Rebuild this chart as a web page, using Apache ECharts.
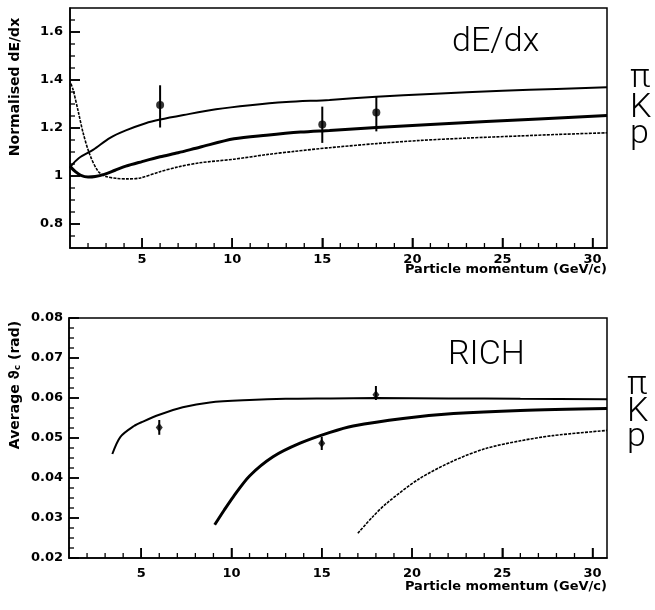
<!DOCTYPE html>
<html>
<head>
<meta charset="utf-8">
<script src="https://cdn.jsdelivr.net/npm/echarts@6.0.0/dist/echarts.min.js"></script>
<style>
  html, body { margin: 0; padding: 0; background: #fff; }
  #chart { width: 655px; height: 610px; }
</style>
</head>
<body>
<div id="chart"></div>
<script>
"use strict";

// momentum axis (GeV/c), shared by both panels
const xRange = [1, 30.8];
const xMajorTicks = [5, 10, 15, 20, 25, 30];
const xMinorTicks = [2, 3, 4, 6, 7, 8, 9, 11, 12, 13, 14, 16, 17, 18, 19, 21, 22, 23, 24, 26, 27, 28, 29];

// dE/dx panel
const dedxRange = [0.7, 1.7];
const dedxMajorTicks = [0.8, 1, 1.2, 1.4, 1.6];
const dedxMinorTicks = [0.75, 0.85, 0.9, 0.95, 1.05, 1.1, 1.15, 1.25, 1.3, 1.35, 1.45, 1.5, 1.55, 1.65];

const dedxPionX = [1.0, 1.5, 2.3, 3.2, 4.1, 5.2, 6.0, 7.3, 9.1, 11, 13, 15.4, 18, 21, 25, 28, 30.8];
const dedxPionY = [1.037, 1.075, 1.11, 1.158, 1.19, 1.22, 1.235, 1.254, 1.278, 1.295, 1.308, 1.317, 1.33, 1.342, 1.355, 1.363, 1.37];

const dedxKaonX = [1.0, 1.3, 1.6, 2.0, 2.4, 2.9, 3.5, 4.1, 5.0, 6.0, 7.0, 8.2, 10.1, 11.9, 13.8, 15.4, 18, 21, 24.1, 27, 30.8];
const dedxKaonY = [1.04, 1.018, 1.003, 0.996, 0.998, 1.007, 1.024, 1.041, 1.06, 1.08, 1.097, 1.12, 1.155, 1.17, 1.183, 1.19, 1.202, 1.215, 1.227, 1.238, 1.252];

const dedxProtonX = [1.05, 1.17, 1.46, 1.73, 2.1, 2.56, 3.0, 3.6, 4.2, 4.9, 6.0, 7.0, 8.2, 10.1, 11.9, 13.5, 15.4, 18, 20.4, 23, 26, 28, 30.8];
const dedxProtonY = [1.385, 1.36, 1.268, 1.179, 1.089, 1.02, 0.998, 0.99, 0.988, 0.992, 1.018, 1.038, 1.055, 1.07, 1.089, 1.103, 1.118, 1.135, 1.148, 1.158, 1.167, 1.173, 1.18];

const dedxDataX = [6, 15, 18];
const dedxDataY = [1.296, 1.215, 1.265];
const dedxDataLo = [1.202, 1.138, 1.186];
const dedxDataHi = [1.378, 1.289, 1.333];

// RICH panel
const richRange = [0.02, 0.08];
const richMajorTicks = [0.02, 0.03, 0.04, 0.05, 0.06, 0.07, 0.08];
const richMinorTicks = [0.0225, 0.025, 0.0275, 0.0325, 0.035, 0.0375, 0.0425, 0.045, 0.0475,
  0.0525, 0.055, 0.0575, 0.0625, 0.065, 0.0675, 0.0725, 0.075, 0.0775];

const richPionX = [3.4, 3.85, 4.6, 5.1, 6.0, 7.3, 8.8, 11, 13, 15.5, 18, 22, 26, 30.8];
const richPionY = [0.0460, 0.0503, 0.0530, 0.0541, 0.0558, 0.0577, 0.0589, 0.0595, 0.0598, 0.0599, 0.0600, 0.0599, 0.0598, 0.0597];

const richKaonX = [9.07, 9.6, 10.1, 11, 12.3, 13.8, 15.46, 16.74, 19.5, 22.3, 26, 30.8];
const richKaonY = [0.0283, 0.0320, 0.0353, 0.0405, 0.0453, 0.0487, 0.0514, 0.0530, 0.0549, 0.0561, 0.0569, 0.0574];

const richProtonX = [17.0, 17.8, 18.6, 20.4, 22.3, 24.1, 26, 27.8, 30.8];
const richProtonY = [0.0262, 0.0302, 0.0337, 0.0398, 0.0443, 0.0474, 0.0493, 0.0506, 0.0519];

const richDataX = [6, 15, 18];
const richDataY = [0.0526, 0.0487, 0.0608];
const richDataLo = [0.0508, 0.0470, 0.0595];
const richDataHi = [0.0545, 0.0503, 0.0630];

const BLACK = "#000";
const LABEL_FONT = { color: BLACK, fontFamily: "DejaVu Sans", fontWeight: "bold", fontSize: 13 };
const MAJOR_LEN = 10, MINOR_LEN = 5;

function zip(xs, ys){
  return xs.map((x, i) => [x, ys[i]]);
}

function axis(gridIndex, range, labels, margin){
  return {
    gridIndex: gridIndex, type: "value", min: range[0], max: range[1],
    axisLine: { show: true, onZero: false, lineStyle: { color: BLACK, width: 1.5 } },
    axisTick: { show: true, inside: true, length: MAJOR_LEN, customValues: labels, lineStyle: { color: BLACK, width: 1.5 } },
    axisLabel: Object.assign({ customValues: labels, margin: margin }, LABEL_FONT),
    splitLine: { show: false }
  };
}

// inward tick marks (major + minor) on bottom and left axes, placed through the axis scales
function tickMarks(axisIdx, yMin, xMin, xMajor, xMinor, yMajor, yMinor){
  let data = [];
  xMajor.forEach(v => data.push([0, v, 1]));
  xMinor.forEach(v => data.push([0, v, 0]));
  yMajor.forEach(v => data.push([1, v, 1]));
  yMinor.forEach(v => data.push([1, v, 0]));
  return {
    type: "custom", xAxisIndex: axisIdx, yAxisIndex: axisIdx, silent: true, clip: false,
    data: data,
    renderItem: function(params, api){
      let isY = api.value(0) == 1;
      let v = api.value(1);
      let major = api.value(2) == 1;
      let len = major ? MAJOR_LEN : MINOR_LEN;
      let p = isY ? api.coord([xMin, v]) : api.coord([v, yMin]);
      let q = isY ? [p[0] + len, p[1]] : [p[0], p[1] - len];
      return { type: "line", shape: { x1: p[0], y1: p[1], x2: q[0], y2: q[1] },
               style: { stroke: BLACK, lineWidth: major ? 1.5 : 1.3 } };
    }
  };
}

function curve(name, xs, ys, axisIdx, width, type){
  return {
    name: name, type: "line", xAxisIndex: axisIdx, yAxisIndex: axisIdx,
    data: zip(xs, ys), smooth: 0.3, symbol: "none", silent: true,
    lineStyle: { color: BLACK, width: width, type: type }
  };
}

function errorBars(xs, lo, hi, axisIdx){
  return {
    type: "custom", xAxisIndex: axisIdx, yAxisIndex: axisIdx, silent: true,
    data: xs.map((x, i) => [x, lo[i], hi[i]]),
    encode: { x: 0, y: [1, 2] },
    renderItem: function(params, api){
      let a = api.coord([api.value(0), api.value(1)]);
      let b = api.coord([api.value(0), api.value(2)]);
      return { type: "line", shape: { x1: a[0], y1: a[1], x2: b[0], y2: b[1] },
               style: { stroke: BLACK, lineWidth: 2 } };
    }
  };
}

function points(xs, ys, axisIdx, symbol, size){
  return {
    type: "scatter", xAxisIndex: axisIdx, yAxisIndex: axisIdx, silent: true,
    data: zip(xs, ys), symbol: symbol, symbolSize: size,
    itemStyle: { color: BLACK }
  };
}

function bigText(str, x, y){
  return { type: "text", x: x, y: y,
    style: { text: str, fill: BLACK, font: "300 34px Roboto", verticalAlign: "middle" } };
}

const option = {
  animation: false,
  backgroundColor: "#fff",
  grid: [
    { left: 70, top: 8, width: 537, height: 240, show: true, borderColor: BLACK, borderWidth: 1.5 },
    { left: 69, top: 318, width: 538, height: 240, show: true, borderColor: BLACK, borderWidth: 1.5 }
  ],
  xAxis: [
    axis(0, xRange, xMajorTicks, 5),
    axis(1, xRange, xMajorTicks, 9)
  ],
  yAxis: [
    axis(0, dedxRange, dedxMajorTicks, 7),
    axis(1, richRange, richMajorTicks, 6)
  ],
  series: [
    tickMarks(0, dedxRange[0], xRange[0], xMajorTicks, xMinorTicks, dedxMajorTicks, dedxMinorTicks),
    curve("π", dedxPionX, dedxPionY, 0, 2, "solid"),
    curve("K", dedxKaonX, dedxKaonY, 0, 3, "solid"),
    curve("p", dedxProtonX, dedxProtonY, 0, 1.6, [3, 1.2]),
    errorBars(dedxDataX, dedxDataLo, dedxDataHi, 0),
    points(dedxDataX, dedxDataY, 0, "circle", 8),

    tickMarks(1, richRange[0], xRange[0], xMajorTicks, xMinorTicks, richMajorTicks, richMinorTicks),
    curve("π", richPionX, richPionY, 1, 2, "solid"),
    curve("K", richKaonX, richKaonY, 1, 3, "solid"),
    curve("p", richProtonX, richProtonY, 1, 1.6, [3, 1.2]),
    errorBars(richDataX, richDataLo, richDataHi, 1),
    points(richDataX, richDataY, 1, "diamond", [7, 9])
  ],
  graphic: [
    bigText("dE/dx", 452, 42),
    bigText("π", 630, 78),
    bigText("K", 630, 108),
    bigText("p", 630, 134),
    bigText("RICH", 448, 355),
    bigText("π", 627, 385),
    bigText("K", 627, 412),
    bigText("p", 627, 437),
    { type: "text", x: 607, y: 270,
      style: { text: "Particle momentum (GeV/c)", fill: BLACK, font: "bold 13px DejaVu Sans", align: "right", verticalAlign: "middle" } },
    { type: "text", x: 607, y: 587,
      style: { text: "Particle momentum (GeV/c)", fill: BLACK, font: "bold 13px DejaVu Sans", align: "right", verticalAlign: "middle" } },
    { type: "text", x: 15, y: 87, rotation: Math.PI / 2,
      style: { text: "Normalised dE/dx", fill: BLACK, font: "bold 14px DejaVu Sans", align: "center", verticalAlign: "middle" } },
    { type: "text", x: 15, y: 385, rotation: Math.PI / 2,
      style: { text: "Average ϑ{s|c} (rad)", fill: BLACK, font: "bold 14px DejaVu Sans", align: "center", verticalAlign: "middle",
        rich: { s: { fontFamily: "DejaVu Sans", fontWeight: "bold", fontSize: 9, verticalAlign: "bottom", fill: BLACK } } } }
  ]
};

const chart = echarts.init(document.getElementById("chart"), null, { renderer: "canvas" });
chart.setOption(option);
</script>
</body>
</html>
